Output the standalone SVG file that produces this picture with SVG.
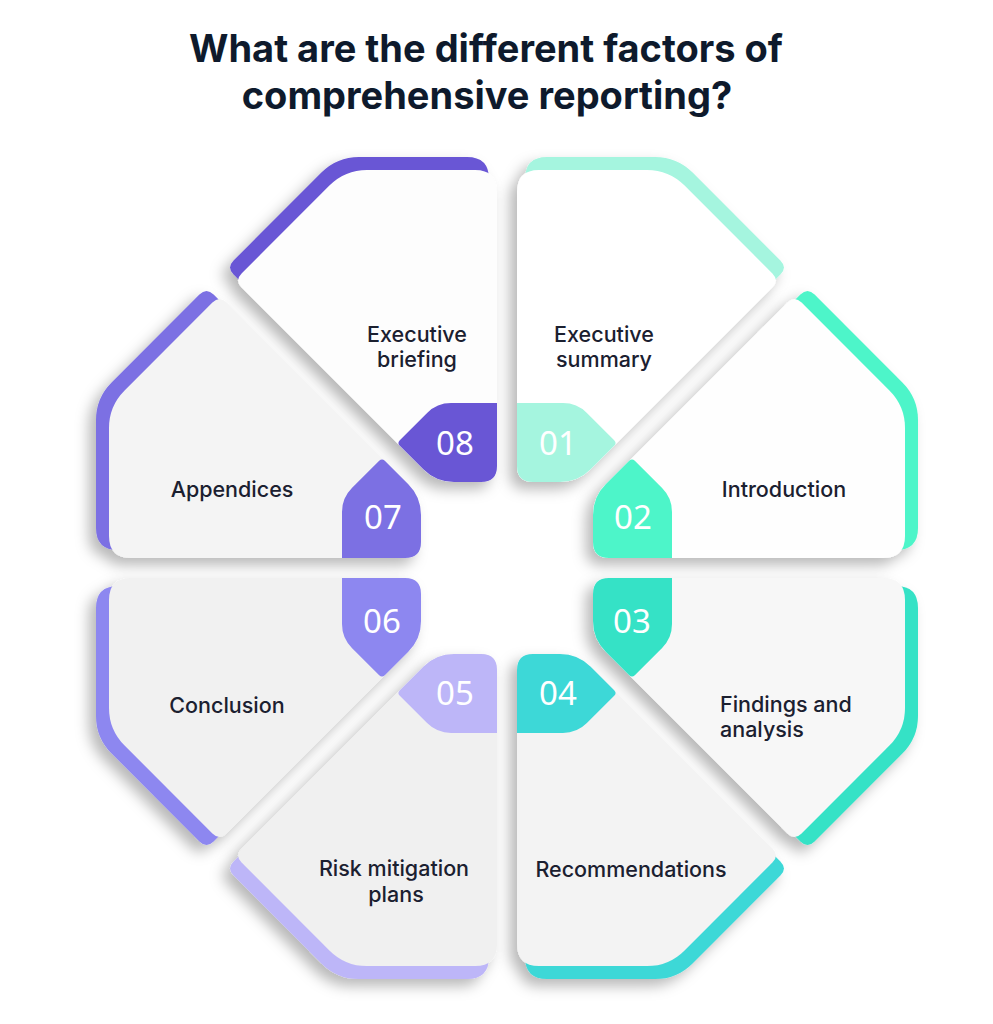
<svg xmlns="http://www.w3.org/2000/svg" xmlns:xlink="http://www.w3.org/1999/xlink" width="993" height="1024" viewBox="0 0 993 1024">
<defs>
<style>
.title{font-family:Inter,"Liberation Sans",sans-serif;font-weight:700;font-size:38px;fill:#0e1a2c;text-anchor:middle}
.label{font-family:Inter,"Liberation Sans",sans-serif;font-weight:500;font-size:21.5px;fill:#1b2030;text-anchor:middle}
.num{font-family:"Noto Sans",Lato,sans-serif;font-weight:400;font-size:33px;fill:#ffffff;text-anchor:middle}
</style>
<filter id="sh" x="-20%" y="-20%" width="140%" height="140%">
<feDropShadow dx="-7" dy="7" stdDeviation="7" flood-color="#000" flood-opacity="0.28"/>
</filter>
<path id="shape" d="M102,-10 L376,-10 Q398,-10 398,-32 L398,-140 Q398,-162 382.4,-177.6 L294.6,-265.4 Q287.5,-272.5 280.4,-265.4 L98.7,-83.7 Q86,-71 86,-53 L86,-26 Q86,-10 102,-10 Z"/>
<path id="badge" d="M102,-10 L165,-10 L165,-56 Q165,-70 155.1,-79.9 L127.8,-107.2 Q125,-110 122.2,-107.2 L98.7,-83.7 Q86,-71 86,-53 L86,-26 Q86,-10 102,-10 Z"/>
</defs>
<rect width="993" height="1024" fill="#ffffff"/>
<g id="title">
<text class="title" x="486" y="62">What are the different factors of</text>
<text class="title" x="487" y="109">comprehensive reporting?</text>
</g>

<g id="card-01">
<g filter="url(#sh)"><g transform="matrix(0,-1,-1,0,507,568)">
<use href="#shape" transform="translate(13,-8)" fill="#a5f5df"/>
<use href="#shape" fill="#ffffff"/>
<use href="#badge" fill="#a5f5df"/>
</g></g>
<text class="label" x="604" y="342">Executive</text>
<text class="label" x="604" y="367">summary</text>
<text class="num" x="558" y="455">01</text>
</g>

<g id="card-02">
<g filter="url(#sh)"><g transform="matrix(1,0,0,1,507,568)">
<use href="#shape" transform="translate(13,-8)" fill="#4ef5c9"/>
<use href="#shape" fill="#fefefe"/>
<use href="#badge" fill="#4ef5c9"/>
</g></g>
<text class="label" x="784" y="497">Introduction</text>
<text class="num" x="633" y="529">02</text>
</g>

<g id="card-03">
<g filter="url(#sh)"><g transform="matrix(1,0,0,-1,507,568)">
<use href="#shape" transform="translate(13,-8)" fill="#36e2c6"/>
<use href="#shape" fill="#f7f7f7"/>
<use href="#badge" fill="#36e2c6"/>
</g></g>
<text class="label" x="720" y="712" style="text-anchor:start">Findings and</text>
<text class="label" x="720" y="737" style="text-anchor:start">analysis</text>
<text class="num" x="632" y="633">03</text>
</g>

<g id="card-04">
<g filter="url(#sh)"><g transform="matrix(0,1,-1,0,507,568)">
<use href="#shape" transform="translate(13,-8)" fill="#3ed8d7"/>
<use href="#shape" fill="#f3f3f3"/>
<use href="#badge" fill="#3ed8d7"/>
</g></g>
<text class="label" x="631" y="877">Recommendations</text>
<text class="num" x="558" y="705">04</text>
</g>

<g id="card-05">
<g filter="url(#sh)"><g transform="matrix(0,1,1,0,507,568)">
<use href="#shape" transform="translate(13,-8)" fill="#bdb6f8"/>
<use href="#shape" fill="#f0f0f0"/>
<use href="#badge" fill="#bdb6f8"/>
</g></g>
<text class="label" x="394" y="876">Risk mitigation</text>
<text class="label" x="396" y="902">plans</text>
<text class="num" x="455" y="705">05</text>
</g>

<g id="card-08">
<g filter="url(#sh)"><g transform="matrix(0,-1,1,0,507,568)">
<use href="#shape" transform="translate(13,-8)" fill="#6956d5"/>
<use href="#shape" fill="#fdfdfd"/>
<use href="#badge" fill="#6956d5"/>
</g></g>
<text class="label" x="417" y="342">Executive</text>
<text class="label" x="417" y="367">briefing</text>
<text class="num" x="455" y="455">08</text>
</g>

<g id="card-07">
<g filter="url(#sh)"><g transform="matrix(-1,0,0,1,507,568)">
<use href="#shape" transform="translate(13,-8)" fill="#7b70e3"/>
<use href="#shape" fill="#f4f4f4"/>
<use href="#badge" fill="#7b70e3"/>
</g></g>
<text class="label" x="232" y="497">Appendices</text>
<text class="num" x="383" y="529">07</text>
</g>

<g id="card-06">
<g filter="url(#sh)"><g transform="matrix(-1,0,0,-1,507,568)">
<use href="#shape" transform="translate(13,-8)" fill="#8d87f0"/>
<use href="#shape" fill="#f1f1f1"/>
<use href="#badge" fill="#8d87f0"/>
</g></g>
<text class="label" x="227" y="713">Conclusion</text>
<text class="num" x="382" y="633">06</text>
</g>
</svg>
